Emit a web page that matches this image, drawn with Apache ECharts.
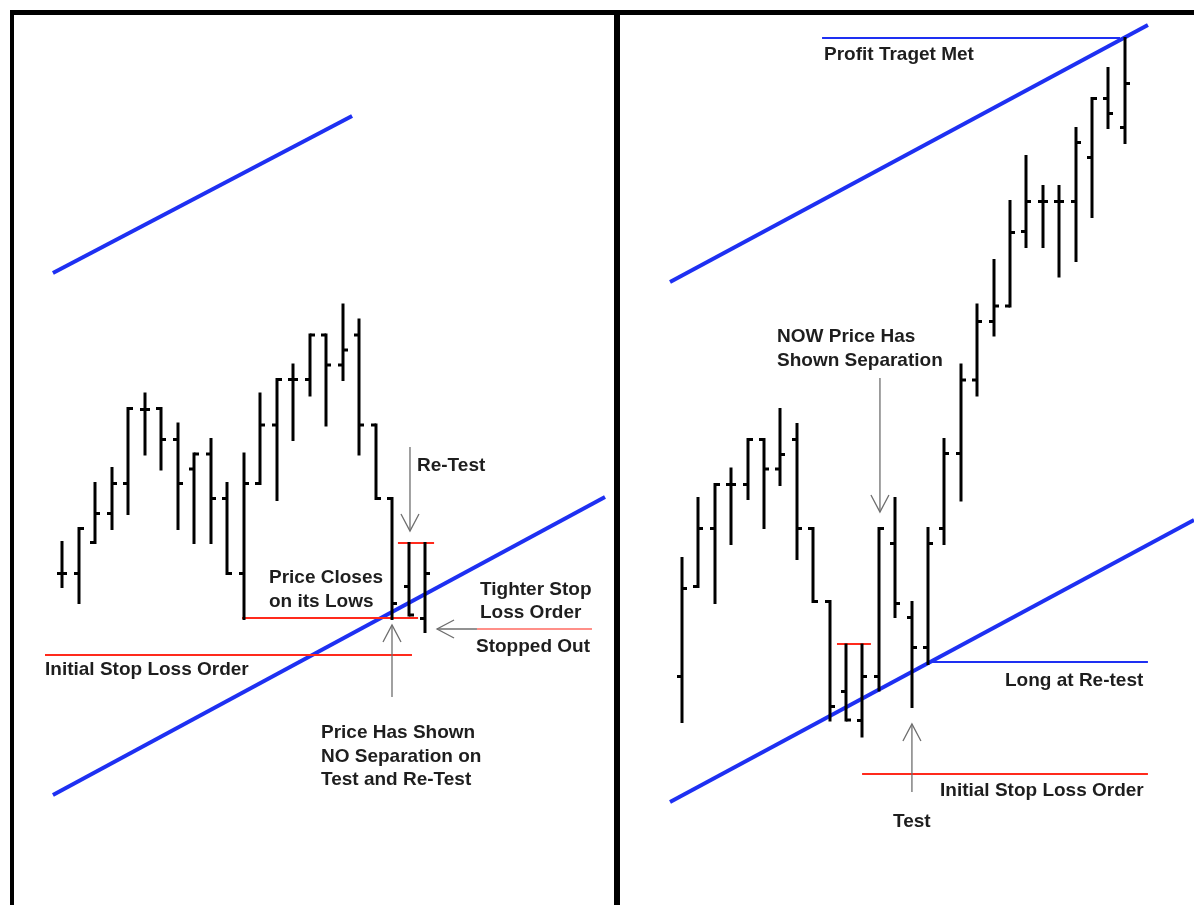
<!DOCTYPE html>
<html><head><meta charset="utf-8">
<script src="https://cdn.jsdelivr.net/npm/echarts@6/dist/echarts.min.js"></script>
<style>html,body{margin:0;padding:0;background:#fff}#c{width:1194px;height:905px}</style>
</head><body><div id="c"></div>
<script>
// ---------- DATA (price units, bar index) ----------
// Left panel bars: [open, high, low, close]
const leftBars = [
  [66.3, 72.5, 63.7, 66.3],
  [66.3, 75.3, 60.5, 75.3],
  [72.5, 84.3, 72.5, 78.3],
  [78.3, 87.3, 75.3, 84.3],
  [84.3, 99.3, 78.3, 99.3],
  [99.1, 102.2, 90.2, 99.1],
  [99.3, 99.3, 87.2, 93.1],
  [93.1, 96.2, 75.3, 84.3],
  [87.2, 90.2, 72.5, 90.2],
  [90.2, 93.1, 72.5, 81.3],
  [81.3, 84.3, 66.3, 66.3],
  [66.3, 90.2, 57.3, 84.3],
  [84.3, 102.2, 84.3, 96.0],
  [96.0, 105.1, 81.1, 105.1],
  [105.1, 108.0, 93.1, 105.1],
  [105.1, 114.0, 102.0, 114.0],
  [114.0, 114.0, 96.0, 108.0],
  [108.0, 120.0, 105.1, 111.0],
  [114.0, 117.0, 90.2, 96.0],
  [96.0, 96.0, 81.3, 81.3],
  [81.3, 81.3, 57.3, 60.3],
  [63.7, 72.3, 58.0, 58.0],
  [57.3, 72.3, 54.7, 66.3]
];
// Right panel bars: [open, high, low, close]
const rightBars = [
  [45.7, 69.3, 36.7, 63.3],
  [63.7, 81.3, 63.7, 75.3],
  [75.3, 84.1, 60.5, 84.1],
  [84.1, 87.2, 72.3, 84.1],
  [84.1, 93.1, 81.3, 93.1],
  [93.1, 93.1, 75.5, 87.2],
  [87.2, 99.1, 84.1, 90.1],
  [93.1, 96.1, 69.3, 75.3],
  [75.3, 75.3, 60.7, 60.7],
  [60.7, 60.7, 37.0, 39.7],
  [42.7, 52.0, 37.0, 37.0],
  [36.9, 52.0, 33.8, 45.7],
  [45.7, 75.3, 43.0, 75.3],
  [72.3, 81.3, 57.7, 60.3],
  [57.5, 60.5, 39.7, 51.5],
  [51.5, 75.3, 48.3, 72.3],
  [75.3, 93.1, 72.3, 90.3],
  [90.3, 108.0, 81.0, 105.0],
  [105.0, 120.0, 102.0, 116.7],
  [116.7, 128.9, 114.0, 119.8],
  [119.8, 140.7, 119.8, 134.5],
  [134.7, 149.7, 131.7, 140.7],
  [140.7, 143.7, 131.7, 140.7],
  [140.7, 143.7, 125.8, 140.7],
  [140.7, 155.3, 128.9, 152.5],
  [149.5, 161.3, 137.7, 161.3],
  [161.3, 167.3, 155.5, 158.3],
  [155.5, 173.3, 152.5, 164.3]
];
// Trend channel lines [[x1,y1],[x2,y2]] (bar index, price)
const leftChannel = [
  [[-0.55, 126.4], [17.58, 157.8]],
  [[-0.55, 22.0], [32.91, 81.6]]
];
const rightChannel = [
  [[-0.73, 124.6], [28.41, 176.0]],
  [[-0.73, 20.6], [31.22, 77.0]]
];
// Horizontal levels
const leftRedLevels = [
  [[10.91, 57.4], [21.58, 57.4]],   // price closes on its lows
  [[20.36, 72.4], [22.55, 72.4]],   // re-test high
  [[-1.03, 50.0], [21.21, 50.0]]    // initial stop loss
];
const leftTighterStop = [[[25.15, 55.2], [32.12, 55.2]]];
const rightBlueLevels = [
  [[8.54, 173.4], [26.71, 173.4]],  // profit target met
  [[15.12, 48.6], [28.41, 48.6]]    // long at re-test
];
const rightRedLevels = [
  [[9.45, 52.2], [11.52, 52.2]],
  [[10.98, 26.2], [28.41, 26.2]]    // initial stop loss
];
// Arrows [fromX, fromY, tipX, tipY]
const leftArrows = [
  [21.09, 91.6, 21.09, 74.8],   // Re-Test
  [20.0, 41.6, 20.0, 56.0],     // Price has shown NO separation
  [25.15, 55.2, 22.73, 55.2]    // Stopped out
];
const rightArrows = [
  [12.07, 105.4, 12.07, 78.6],  // NOW price has shown separation
  [14.02, 22.6, 14.02, 36.2]    // Test
];

// ---------- CHART ----------
const BLUE = '#1e30f2', RED = '#ff2a1c', GRAY = '#6e6e6e', INK = '#1e1e1e';
const chart = echarts.init(document.getElementById('c'), null, {renderer: 'canvas'});

function ohlcItem(params, api) {
  const i = api.value(0);
  const o = api.coord([i, api.value(1)]);
  const h = api.coord([i, api.value(2)]);
  const l = api.coord([i, api.value(3)]);
  const c = api.coord([i, api.value(4)]);
  const x = Math.round(h[0]);
  const st = {stroke: '#000', lineWidth: 3, lineCap: 'butt'};
  return {type: 'group', children: [
    {type: 'line', shape: {x1: x, y1: h[1] - 1.5, x2: x, y2: l[1] + 1.5}, style: st},
    {type: 'line', shape: {x1: x - 5, y1: o[1], x2: x, y2: o[1]}, style: st},
    {type: 'line', shape: {x1: x, y1: c[1], x2: x + 5, y2: c[1]}, style: st}
  ]};
}
function arrowItem(params, api) {
  const p1 = api.coord([api.value(0), api.value(1)]);
  const p2 = api.coord([api.value(2), api.value(3)]);
  const dx = p2[0] - p1[0], dy = p2[1] - p1[1];
  const len = Math.hypot(dx, dy) || 1;
  const ux = dx / len, uy = dy / len;
  const hl = 17, hw = 9;
  const bx = p2[0] - ux * hl, by = p2[1] - uy * hl;
  const st = {stroke: GRAY, lineWidth: 1.3, fill: null};
  return {type: 'group', children: [
    {type: 'line', shape: {x1: p1[0], y1: p1[1], x2: p2[0], y2: p2[1]}, style: st},
    {type: 'polyline', shape: {points: [[bx - uy * hw, by + ux * hw], [p2[0], p2[1]], [bx + uy * hw, by - ux * hw]]}, style: st}
  ]};
}
function segs(name, arr, gi, color, width) {
  return {
    name: name, type: 'lines', coordinateSystem: 'cartesian2d',
    xAxisIndex: gi, yAxisIndex: gi, silent: true, z: 3,
    lineStyle: {color: color, width: width, opacity: 1},
    data: arr.map(s => ({coords: s}))
  };
}
const leftX0 = 62, leftStep = 16.5, rightX0 = 682, rightStep = 16.4;
const gridL = {left: 14, top: 0, width: 600, height: 905};
const gridR = {left: 621, top: 0, width: 573, height: 905};

const option = {
  animation: false,
  backgroundColor: '#fff',
  grid: [gridL, gridR],
  xAxis: [
    {type: 'value', gridIndex: 0, show: false, min: (gridL.left - leftX0) / leftStep, max: (gridL.left + gridL.width - leftX0) / leftStep},
    {type: 'value', gridIndex: 1, show: false, min: (gridR.left - rightX0) / rightStep, max: (gridR.left + gridR.width - rightX0) / rightStep}
  ],
  yAxis: [
    {type: 'value', gridIndex: 0, show: false, min: 0, max: 181},
    {type: 'value', gridIndex: 1, show: false, min: 0, max: 181}
  ],
  series: [
    segs('leftChannel', leftChannel, 0, BLUE, 4),
    segs('rightChannel', rightChannel, 1, BLUE, 4),
    segs('leftRed', leftRedLevels, 0, RED, 2.2),
    segs('leftTighter', leftTighterStop, 0, '#ff6a60', 1.6),
    segs('rightBlueLevels', rightBlueLevels, 1, BLUE, 2.2),
    segs('rightRed', rightRedLevels, 1, RED, 2.2),
    {type: 'custom', name: 'leftBars', xAxisIndex: 0, yAxisIndex: 0, z: 4, renderItem: ohlcItem,
      encode: {x: 0, y: [1, 2, 3, 4]}, data: leftBars.map((b, i) => [i].concat(b))},
    {type: 'custom', name: 'rightBars', xAxisIndex: 1, yAxisIndex: 1, z: 4, renderItem: ohlcItem,
      encode: {x: 0, y: [1, 2, 3, 4]}, data: rightBars.map((b, i) => [i].concat(b))},
    {type: 'custom', name: 'leftArrows', xAxisIndex: 0, yAxisIndex: 0, z: 5, renderItem: arrowItem,
      encode: {x: [0, 2], y: [1, 3]}, data: leftArrows},
    {type: 'custom', name: 'rightArrows', xAxisIndex: 1, yAxisIndex: 1, z: 5, renderItem: arrowItem,
      encode: {x: [0, 2], y: [1, 3]}, data: rightArrows}
  ],
  graphic: []
};

// Annotations (text), left x and vertical centre in pixels
const notes = [
  ['Re-Test', 417, 466],
  ['Price Closes', 269, 578], ['on its Lows', 269, 602],
  ['Tighter Stop', 480, 590], ['Loss Order', 480, 613],
  ['Stopped Out', 476, 647],
  ['Initial Stop Loss Order', 45, 670],
  ['Price Has Shown', 321, 733], ['NO Separation on', 321, 757], ['Test and Re-Test', 321, 780],
  ['Profit Traget Met', 824, 55],
  ['NOW Price Has', 777, 337], ['Shown Separation', 777, 361],
  ['Long at Re-test', 1005, 681],
  ['Initial Stop Loss Order', 940, 791],
  ['Test', 893, 822]
];
notes.forEach(n => option.graphic.push({
  type: 'text', x: n[1], y: n[2], z: 10,
  style: {text: n[0], fill: INK, font: 'bold 19px "Liberation Sans", Arial, sans-serif', textVerticalAlign: 'middle', verticalAlign: 'middle'}
}));
// Frame
[[10, 10, 1184, 5], [10, 10, 4, 895], [614, 10, 6, 895]].forEach(r => option.graphic.push({
  type: 'rect', z: 20, shape: {x: r[0], y: r[1], width: r[2], height: r[3]}, style: {fill: '#000'}
}));

chart.setOption(option);
</script>
</body></html>
